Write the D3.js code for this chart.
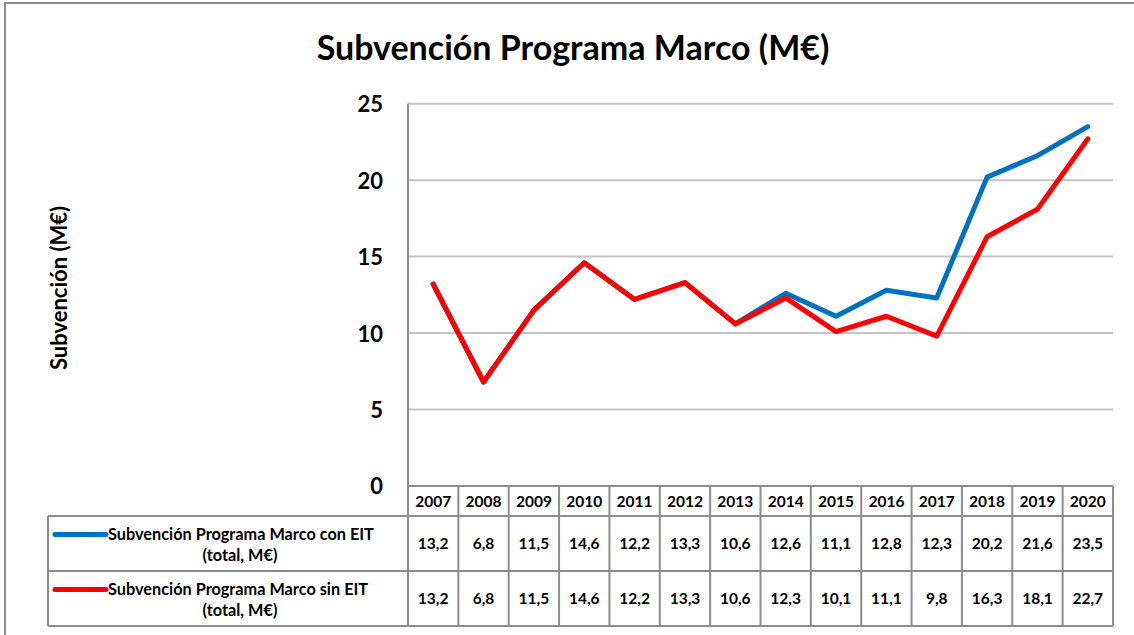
<!DOCTYPE html>
<html>
<head>
<meta charset="utf-8">
<script src="https://cdn.jsdelivr.net/npm/d3@7"></script>
<style>
  body { margin: 0; background: #fff; }
  svg { display: block; font-family: Lato, "Open Sans", sans-serif; font-weight: bold; }
</style>
</head>
<body>
<svg id="svg"></svg>
<script>
// Chart data
const years = ["2007", "2008", "2009", "2010", "2011", "2012", "2013", "2014", "2015", "2016", "2017", "2018", "2019", "2020"];
const conEIT = [13.2, 6.8, 11.5, 14.6, 12.2, 13.3, 10.6, 12.6, 11.1, 12.8, 12.3, 20.2, 21.6, 23.5];
const sinEIT = [13.2, 6.8, 11.5, 14.6, 12.2, 13.3, 10.6, 12.3, 10.1, 11.1, 9.8, 16.3, 18.1, 22.7];
const yTicks = [0, 5, 10, 15, 20, 25];
const seriesNames = ["Subvención Programa Marco con EIT", "Subvención Programa Marco sin EIT"];
const seriesColors = ["#0070C0", "#FF0000"];

const width = 1134;
const height = 635;
const gridColor = "#c4c4c4";
const borderColor = "#8c8c8c";

let svg = d3.select("#svg").attr("width", width).attr("height", height);

// outer chart frame
svg.append("rect")
    .attr("x", 5).attr("y", 3)
    .attr("width", width + 20).attr("height", height + 20)
    .attr("fill", "none")
    .attr("stroke", borderColor)
    .attr("stroke-width", 2);

// title
svg.append("text")
    .attr("x", 573).attr("y", 60)
    .attr("text-anchor", "middle")
    .style("font-size", "34px")
    .text("Subvención Programa Marco (M€)");

// y axis title
svg.append("text")
    .attr("transform", "translate(67,288) rotate(-90)")
    .attr("text-anchor", "middle")
    .style("font-size", "22px")
    .text("Subvención (M€)");

// scales
const plotLeft = 408, plotRight = 1113;
const plotTop = 103.7, plotBottom = 486;

const x = d3.scaleBand().domain(years).range([plotLeft, plotRight]);
const y = d3.scaleLinear().domain([0, 25]).range([plotBottom, plotTop]);

// gridlines
svg.append("g")
    .selectAll("line")
    .data(yTicks.filter(d => d > 0))
    .join("line")
    .attr("x1", plotLeft).attr("x2", plotRight)
    .attr("y1", d => y(d)).attr("y2", d => y(d))
    .attr("stroke", gridColor)
    .attr("stroke-width", 2);

// y axis
const yAxis = svg.append("g")
    .attr("transform", "translate(" + plotLeft + ",0)")
    .call(d3.axisLeft(y).tickValues(yTicks).tickSize(0).tickPadding(25));
yAxis.select(".domain").remove();
yAxis.selectAll("text")
    .attr("dy", "0.36em")
    .style("font-size", "22px")
    .style("font-family", "Lato, sans-serif")
    .style("font-weight", "bold")
    .attr("fill", "#000");

svg.append("line")
    .attr("x1", plotLeft).attr("x2", plotLeft)
    .attr("y1", plotTop).attr("y2", plotBottom)
    .attr("stroke", borderColor)
    .attr("stroke-width", 2);

// lines
const line = d3.line()
    .x((d, i) => x(years[i]) + x.bandwidth() / 2)
    .y(d => y(d));

[conEIT, sinEIT].forEach((vals, k) => {
    svg.append("path")
        .datum(vals)
        .attr("d", line)
        .attr("fill", "none")
        .attr("stroke", seriesColors[k])
        .attr("stroke-width", 5)
        .attr("stroke-linejoin", "round")
        .attr("stroke-linecap", "round");
});

// data table
const rowTop = [486, 516, 571];
const rowBottom = [516, 571, 626];
const legendLeft = 48;
const table = svg.append("g");

// year header
table.selectAll(".year")
    .data(years)
    .join("text")
    .attr("x", d => x(d) + x.bandwidth() / 2)
    .attr("y", (rowTop[0] + rowBottom[0]) / 2)
    .attr("dy", "0.36em")
    .attr("text-anchor", "middle")
    .style("font-size", "15.5px")
    .text(d => d);

const fmt = v => d3.format(".1f")(v).replace(".", ",");

[conEIT, sinEIT].forEach((vals, k) => {
    const cy = (rowTop[k + 1] + rowBottom[k + 1]) / 2;
    table.selectAll(".val" + k)
        .data(vals)
        .join("text")
        .attr("x", (d, i) => x(years[i]) + x.bandwidth() / 2)
        .attr("y", cy)
        .attr("dy", "0.36em")
        .attr("text-anchor", "middle")
        .style("font-size", "15.5px")
        .text(d => fmt(d));

    // legend key + label
    table.append("line")
        .attr("x1", 55).attr("x2", 106)
        .attr("y1", cy - 9).attr("y2", cy - 9)
        .attr("stroke", seriesColors[k])
        .attr("stroke-width", 5)
        .attr("stroke-linecap", "round");
    table.append("text")
        .attr("x", 108).attr("y", cy - 9)
        .attr("dy", "0.36em")
        .attr("text-anchor", "start")
        .style("font-size", "16.3px")
        .text(seriesNames[k]);
    table.append("text")
        .attr("x", 240).attr("y", cy + 12)
        .attr("dy", "0.36em")
        .attr("text-anchor", "middle")
        .style("font-size", "16.3px")
        .text("(total, M€)");
});

// table grid lines
const hLines = [
    [plotLeft, plotRight, 486],
    [legendLeft, plotRight, 516],
    [legendLeft, plotRight, 571],
    [legendLeft, plotRight, 626]
];
table.selectAll(".hl")
    .data(hLines)
    .join("line")
    .attr("x1", d => d[0]).attr("x2", d => d[1])
    .attr("y1", d => d[2]).attr("y2", d => d[2])
    .attr("stroke", borderColor)
    .attr("stroke-width", 2);

const colEdges = years.map(d => x(d)).concat([plotRight]);
table.selectAll(".vl")
    .data(colEdges)
    .join("line")
    .attr("x1", d => d).attr("x2", d => d)
    .attr("y1", 486).attr("y2", 626)
    .attr("stroke", borderColor)
    .attr("stroke-width", 2);

table.append("line")
    .attr("x1", legendLeft).attr("x2", legendLeft)
    .attr("y1", 516).attr("y2", 626)
    .attr("stroke", borderColor)
    .attr("stroke-width", 2);
</script>
</body>
</html>
